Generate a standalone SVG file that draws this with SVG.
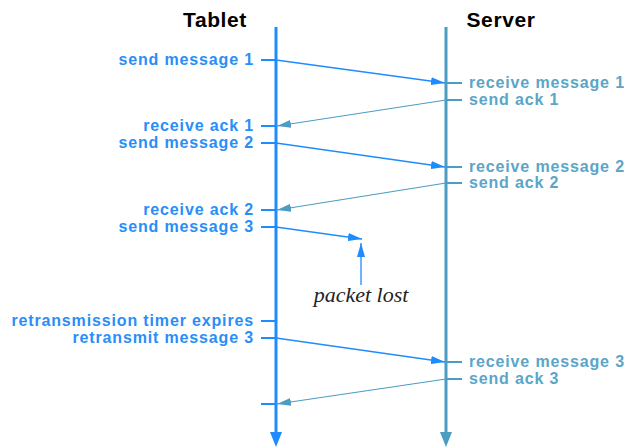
<svg xmlns="http://www.w3.org/2000/svg" width="626" height="448" viewBox="0 0 626 448">
<style>
.title{font-family:"Liberation Sans",Arial,sans-serif;font-weight:bold;font-size:21px;letter-spacing:0.6px;fill:#000;text-anchor:middle}
.tl{font-family:"Liberation Sans",Arial,sans-serif;font-weight:bold;font-size:16px;letter-spacing:0.85px;fill:#2a8ef8;text-anchor:end}
.sl{font-family:"Liberation Sans",Arial,sans-serif;font-weight:bold;font-size:16px;letter-spacing:0.85px;fill:#5aa5c8;text-anchor:start}
.tline{stroke:#1e8cff;stroke-width:3;fill:none}
.sline{stroke:#4b9dc2;stroke-width:3;fill:none}
.ttick{stroke:#1e8cff;stroke-width:2}
.stick{stroke:#4b9dc2;stroke-width:2}
.msg{stroke:#1e8cff;stroke-width:1.3;fill:none;marker-end:url(#am)}
.ack{stroke:#4b9dc2;stroke-width:1.2;fill:none;marker-end:url(#aa)}
.note{font-family:"Liberation Serif","Times New Roman",serif;font-style:italic;font-size:22px;fill:#222;text-anchor:middle}
</style>
<defs>
<marker id="am" markerUnits="userSpaceOnUse" markerWidth="14" markerHeight="8" refX="14" refY="4" orient="auto"><path d="M0,0 L14,4 L0,8 z" fill="#1e8cff"/></marker>
<marker id="aa" markerUnits="userSpaceOnUse" markerWidth="14" markerHeight="8" refX="14" refY="4" orient="auto"><path d="M0,0 L14,4 L0,8 z" fill="#4b9dc2"/></marker>
</defs>
<rect width="626" height="448" fill="#fff"/>

<g id="tablet">
<text class="title" x="215" y="27">Tablet</text>
<line class="tline" x1="276" y1="27" x2="276" y2="433"/>
<path d="M270,432 L282,432 L276,447 z" fill="#1e8cff"/>
<line class="ttick" x1="261" y1="60" x2="276" y2="60"/>
<line class="ttick" x1="261" y1="126" x2="276" y2="126"/>
<line class="ttick" x1="261" y1="143" x2="276" y2="143"/>
<line class="ttick" x1="261" y1="210" x2="276" y2="210"/>
<line class="ttick" x1="261" y1="227" x2="276" y2="227"/>
<line class="ttick" x1="261" y1="321" x2="276" y2="321"/>
<line class="ttick" x1="261" y1="338" x2="276" y2="338"/>
<line class="ttick" x1="261" y1="404" x2="276" y2="404"/>
<text class="tl" x="254" y="65">send message 1</text>
<text class="tl" x="254" y="131">receive ack 1</text>
<text class="tl" x="254" y="148">send message 2</text>
<text class="tl" x="254" y="215">receive ack 2</text>
<text class="tl" x="254" y="232">send message 3</text>
<text class="tl" x="254" y="326">retransmission timer expires</text>
<text class="tl" x="254" y="343">retransmit message 3</text>
</g>

<g id="server">
<text class="title" x="501" y="27">Server</text>
<line class="sline" x1="446" y1="27" x2="446" y2="433"/>
<path d="M440,432 L452,432 L446,447 z" fill="#4b9dc2"/>
<line class="stick" x1="446" y1="83" x2="462" y2="83"/>
<line class="stick" x1="446" y1="100" x2="462" y2="100"/>
<line class="stick" x1="446" y1="167" x2="462" y2="167"/>
<line class="stick" x1="446" y1="183" x2="462" y2="183"/>
<line class="stick" x1="446" y1="362" x2="462" y2="362"/>
<line class="stick" x1="446" y1="379" x2="462" y2="379"/>
<text class="sl" x="469" y="87.5">receive message 1</text>
<text class="sl" x="469" y="105">send ack 1</text>
<text class="sl" x="469" y="171.5">receive message 2</text>
<text class="sl" x="469" y="188">send ack 2</text>
<text class="sl" x="469" y="366.5">receive message 3</text>
<text class="sl" x="469" y="384">send ack 3</text>
</g>

<g id="packet-lost">
<line x1="361" y1="285" x2="361" y2="243" class="msg"/>
<text class="note" x="361" y="302">packet lost</text>
</g>

<g id="connectors">
<line class="msg" x1="276" y1="60" x2="445" y2="83"/>
<line class="ack" x1="446" y1="100" x2="277" y2="126"/>
<line class="msg" x1="276" y1="143" x2="445" y2="167"/>
<line class="ack" x1="446" y1="183" x2="277" y2="210"/>
<line class="msg" x1="276" y1="227" x2="362" y2="239"/>
<line class="msg" x1="276" y1="338" x2="445" y2="362"/>
<line class="ack" x1="446" y1="379" x2="277" y2="404"/>
</g>
</svg>
